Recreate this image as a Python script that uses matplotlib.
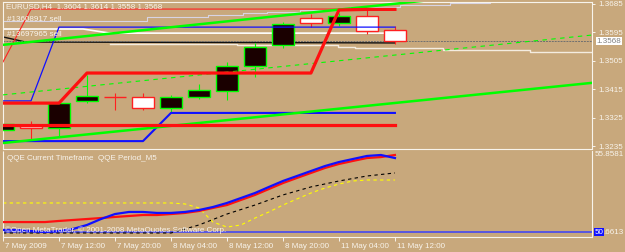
import numpy as np
import matplotlib
matplotlib.use("Agg")
import matplotlib.pyplot as plt
import matplotlib.transforms as mtrans

plt.rcParams['font.family'] = ['Liberation Sans', 'DejaVu Sans']

W, H = 625, 252
bg = '#c8a87c'
fg = '#f8f4ec'
fs = 5.8

# ---- price data, H4 bars (7 May 00:00 .. 11 May 08:00)
opens  = [1.3287, 1.3300, 1.3293, 1.3379, 1.3391, 1.3391, 1.3357, 1.3391, 1.3410, 1.3489, 1.3556, 1.3641, 1.3625, 1.3647, 1.3604]
highs  = [1.3312, 1.3316, 1.3379, 1.3461, 1.3404, 1.3404, 1.3398, 1.3432, 1.3502, 1.3562, 1.3628, 1.3653, 1.3657, 1.3666, 1.3614]
lows   = [1.3281, 1.3256, 1.3265, 1.3372, 1.3350, 1.3350, 1.3344, 1.3385, 1.3382, 1.3454, 1.3546, 1.3612, 1.3616, 1.3590, 1.3558]
closes = [1.3306, 1.3293, 1.3372, 1.3394, 1.3391, 1.3357, 1.3391, 1.3413, 1.3489, 1.3549, 1.3622, 1.3625, 1.3647, 1.3600, 1.3568]

# indicator buffers, one value per bar
red_upper  = [1.3372, 1.3372, 1.3372, 1.3467, 1.3467, 1.3467, 1.3467, 1.3467, 1.3467, 1.3467, 1.3467, 1.3467, 1.3666, 1.3668, 1.3668]
red_thin   = [1.3502, 1.3669, 1.3669, 1.3669, 1.3669, 1.3669, 1.3669, 1.3669, 1.3669, 1.3669, 1.3669, 1.3669, 1.3669, 1.3669, 1.3669]
red_lower  = [1.3303, 1.3303, 1.3303, 1.3303, 1.3303, 1.3303, 1.3303, 1.3303, 1.3303, 1.3303, 1.3303, 1.3303, 1.3303, 1.3303, 1.3303]
blue_upper = [1.3379, 1.3379, 1.3612, 1.3612, 1.3612, 1.3612, 1.3612, 1.3612, 1.3612, 1.3612, 1.3612, 1.3612, 1.3612, 1.3612, 1.3612]
blue_lower = [1.3252, 1.3252, 1.3252, 1.3252, 1.3252, 1.3252, 1.3341, 1.3341, 1.3341, 1.3341, 1.3341, 1.3341, 1.3341, 1.3341, 1.3341]

# trend lines / objects (bar position, price)
green_up_x, green_up_y = [0, 21.04], [1.3556, 1.3751]
green_lo_x, green_lo_y = [0, 21.04], [1.3246, 1.3436]
green_dash_x, green_dash_y = [0, 21.04], [1.3398, 1.3587]
silver_x = [0, 5.14, 7.32, 8.57, 9.43, 10.61, 12.39, 14.18, 15.96, 17.39, 21.04]
silver_y = [1.3631, 1.3644, 1.3650, 1.3657, 1.3660, 1.3666, 1.3676, 1.3682, 1.3688, 1.3691, 1.3691]
beige_x = [3.82, 8.36, 11.96, 12.57, 15.71, 18.82, 21.04]
beige_y = [1.3559, 1.3556, 1.3549, 1.3546, 1.3540, 1.3533, 1.3533]
white_x = [0, 2.86, 3.82, 13.64]
white_y = [1.3606, 1.3606, 1.3593, 1.3593]
black_x = [0, 0.8, 14.0]
black_y = [1.3581, 1.3565, 1.3562]
last_price = 1.3568

price_ticks = [1.3685, 1.3595, 1.3505, 1.3415, 1.3325, 1.3235]
time_labels = ['7 May 2009', '7 May 12:00', '7 May 20:00', '8 May 04:00',
               '8 May 12:00', '8 May 20:00', '11 May 04:00', '11 May 12:00']

# ---- QQE sub window (half bar steps)
qqe_x = np.arange(0, 14.5, 0.5)
qqe_red  = [50.72, 50.72, 50.72, 50.72, 50.80, 50.87, 50.94, 51.01, 51.09, 51.16, 51.23, 51.23, 51.30, 51.38, 51.52,
            51.74, 51.95, 52.32, 52.68, 53.11, 53.54, 53.91, 54.27, 54.63, 54.92, 55.14, 55.35, 55.42, 55.57]
qqe_blue = [50.15, 50.15, 50.07, 50.00, 50.07, 50.22, 50.51, 50.94, 51.30, 51.45, 51.45, 51.38, 51.38, 51.45, 51.59,
            51.81, 52.10, 52.46, 52.82, 53.26, 53.69, 54.05, 54.41, 54.77, 55.06, 55.28, 55.50, 55.57, 55.35]
qqe_yellow = [52.10, 52.10, 52.10, 52.10, 52.10, 52.10, 52.10, 52.10, 52.10, 52.10, 52.10, 52.10, 52.10, 52.03, 51.74,
              50.72, 50.36, 50.51, 51.01, 51.45, 51.95, 52.39, 52.82, 53.18, 53.47, 53.69, 53.76, 53.76, 53.76]
qqe_black = [49.93, 49.93, 49.93, 49.93, 49.93, 49.93, 49.93, 50.51, 51.30, 51.95, 52.68, 53.26, 53.69, 54.05, 54.27]
qqe_level = 50

fig = plt.figure(figsize=(W / 100, H / 100), dpi=100, facecolor=bg)
ax = fig.add_axes([3 / W, 1 - 149 / H, 589 / W, 147 / H], facecolor=bg)
ax2 = fig.add_axes([3 / W, 1 - 237 / H, 589 / W, 86 / H], facecolor=bg)

n = len(opens)
xs = np.arange(n)
opens, closes = np.array(opens), np.array(closes)
up = closes > opens

# candles: bull = black body green edge, bear = white body red edge
bw = 0.76
for i in range(n):
    col = '#00ff00' if up[i] else '#ff2020'
    ax.vlines(xs[i], lows[i], highs[i], color=col, lw=0.8, zorder=2)
    lo = min(opens[i], closes[i])
    h = max(abs(closes[i] - opens[i]), 0.00002)
    ax.bar(xs[i], h, bottom=lo, width=bw, color='#1a0000' if up[i] else 'white',
           edgecolor=col, linewidth=1.0, zorder=3)

ax.plot(xs, red_upper, color='#ff1010', lw=2.3, zorder=5)
ax.plot(xs, red_thin, color='#ff2020', lw=0.8, zorder=4)
ax.plot(xs, red_lower, color='#ff1010', lw=2.3, zorder=5)
ax.plot(xs, blue_upper, color='#1010ff', lw=0.9, zorder=4)
ax.plot(xs, blue_lower, color='#1010ff', lw=1.5, zorder=4)
ax.plot(green_up_x, green_up_y, color='#00ff00', lw=1.8, zorder=4)
ax.plot(green_lo_x, green_lo_y, color='#00ff00', lw=1.8, zorder=4)
ax.plot(green_dash_x, green_dash_y, color='#00ff00', lw=0.8, ls=(0, (4, 4)), zorder=4)
ax.plot(silver_x, silver_y, color='#d8d4e4', lw=0.8, drawstyle='steps-post', zorder=1)
ax.plot(beige_x, beige_y, color='#f4ece0', lw=1.0, drawstyle='steps-post', zorder=1)
ax.plot(white_x, white_y, color='white', lw=1.2, zorder=1)
ax.plot(black_x, black_y, color='#101010', lw=1.0, zorder=1)
ax.axhline(last_price, color='#707070', lw=0.7, ls=(0, (2, 1)), zorder=1)

ax.set_xlim(0, 21.04)
ax.set_ylim(1.32271, 1.36913)
ax.set_xticks([])
ax.yaxis.tick_right()
ax.set_yticks(price_ticks)
ax.set_yticklabels(['%.4f' % p for p in price_ticks])
ax.tick_params(axis='y', colors=fg, labelsize=fs, length=2.5, width=0.7, pad=2)

for a in (ax, ax2):
    for s in a.spines.values():
        s.set_color(fg)
        s.set_linewidth(0.8)
    a.spines['left'].set_linestyle((0, (1, 1)))
ax.spines['bottom'].set_linestyle((0, (1, 1)))
ax2.spines['top'].set_visible(False)

# current price box
tb = mtrans.blended_transform_factory(ax.transAxes, ax.transData)
ax.text(1.008, last_price, '%.4f' % last_price, transform=tb, fontsize=fs, color='#808080',
        va='center', ha='left', bbox=dict(boxstyle='square,pad=0.1', fc='white', ec='none'))

# ---- QQE window
ax2.plot(qqe_x, qqe_yellow, color='#ffff00', lw=0.8, ls=(0, (3, 3)), zorder=2)
ax2.plot(xs, qqe_black, color='black', lw=0.8, ls=(0, (3, 3)), zorder=2)
ax2.plot(qqe_x, qqe_red, color='#ff1010', lw=1.6, zorder=3)
ax2.plot(qqe_x, qqe_blue, color='#1010ff', lw=1.6, zorder=4)
ax2.axhline(qqe_level, color='#5050e8', lw=1.3, zorder=1)
ax2.set_xlim(0, 21.04)
ax2.set_ylim(49.64, 55.8581)
ax2.set_yticks([])
ax2.set_xticks(np.arange(0, 16, 2))
ax2.set_xticklabels(time_labels)
ax2.tick_params(axis='x', colors=fg, labelsize=fs, length=3, width=0.7, pad=1)
shift = mtrans.ScaledTranslation(2 / 100, 0, fig.dpi_scale_trans)
for lab in ax2.get_xticklabels():
    lab.set_ha('left')
    lab.set_transform(lab.get_transform() + shift)

t2 = mtrans.blended_transform_factory(ax2.transAxes, ax2.transData)
ax2.text(1.004, 55.8581, '55.8581', transform=t2, fontsize=fs, color=fg, va='top', ha='left')
ax2.text(1.004, qqe_level, '50', transform=t2, fontsize=fs, color='white', va='center', ha='left',
         bbox=dict(boxstyle='square,pad=0.1', fc='#1010ff', ec='none'), zorder=6)
ax2.text(1.019, qqe_level, '.6613', transform=t2, fontsize=fs, color=fg, va='center', ha='left')

# labels inside the windows
fig.text(6 / W, 1 - 7 / H, 'EURUSD,H4  1.3604 1.3614 1.3558 1.3568', fontsize=fs, color=fg, va='center')
fig.text(7 / W, 1 - 20 / H, '#13608917 sell', fontsize=fs, color=fg, va='center')
fig.text(7 / W, 1 - 34 / H, '#13697965 sell', fontsize=fs, color=fg, va='center')
fig.text(7 / W, 1 - 158 / H, 'QQE Current Timeframe  QQE Period_M5', fontsize=fs, color=fg, va='center')
fig.text(5 / W, 1 - 230 / H, '©Open MetaTrader, © 2001-2008 MetaQuotes Software Corp.', fontsize=fs,
         color=fg, va='center')

fig.savefig('out.png', dpi=100, facecolor=bg)
